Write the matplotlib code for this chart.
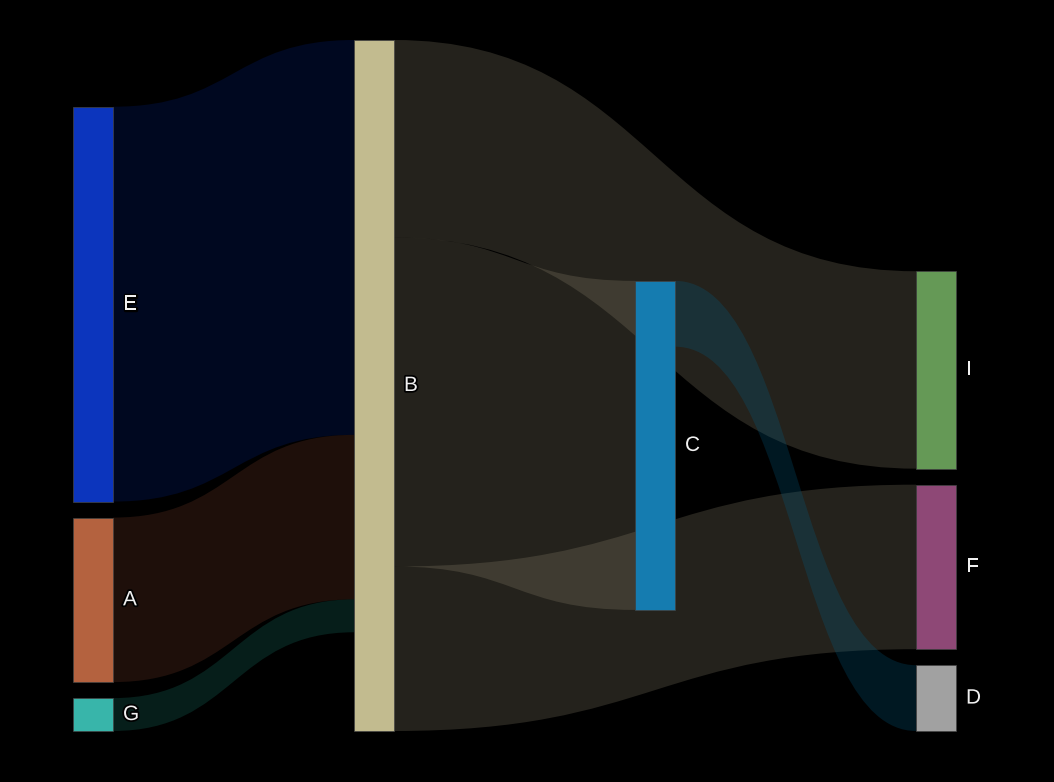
import numpy as np
import matplotlib
matplotlib.use('Agg')
import matplotlib.pyplot as plt
from matplotlib.path import Path
from matplotlib.patches import PathPatch, Rectangle
import matplotlib.patheffects as pe

# nodes, in drawing order inside each column
nodes = ['E', 'A', 'G', 'B', 'C', 'I', 'F', 'D']
node_col = [0, 0, 0, 1, 2, 3, 3, 3]
node_colors = ['#0c35bd', '#b4623f', '#38b5aa', '#c2bb8f',
               '#157cb0', '#659956', '#8e4876', '#a1a1a1']

# links (source, target, value)
link_src = ['E', 'A', 'G', 'B', 'B', 'B', 'C']
link_tgt = ['B', 'B', 'B', 'I', 'C', 'F', 'D']
link_val = [12, 5, 1, 6, 10, 5, 2]
link_colors = ['#002080', '#783c28', '#187868', '#908870',
               '#908870', '#908870', '#006088']
link_alpha = 0.25

# figure / layout settings (pixels)
W, H = 1054, 782
left, right = 73, 956
top, bottom = 40, 731
node_w = 40
pad = 16
iterations = 40

idx = {n: i for i, n in enumerate(nodes)}
n_in = np.zeros(len(nodes))
n_out = np.zeros(len(nodes))
for s, t, v in zip(link_src, link_tgt, link_val):
    n_out[idx[s]] += v
    n_in[idx[t]] += v
node_val = np.maximum(n_in, n_out)

ncols = max(node_col) + 1
cols = [[i for i in range(len(nodes)) if node_col[i] == c] for c in range(ncols)]
ky = min((bottom - top - pad * (len(c) - 1)) / node_val[c].sum() for c in cols)
col_x = np.linspace(left, right - node_w, ncols)

y0 = np.zeros(len(nodes))
y1 = np.zeros(len(nodes))
for c in cols:
    # stack each column against the bottom edge
    y = bottom - node_val[c].sum() * ky - pad * (len(c) - 1)
    for i in c:
        y0[i] = y
        y1[i] = y + node_val[i] * ky
        y = y1[i] + pad


def centre(i):
    return (y0[i] + y1[i]) / 2


def pull(i, incoming):
    num, den = 0.0, 0.0
    for s, t, v in zip(link_src, link_tgt, link_val):
        if incoming and idx[t] == i:
            num += v * centre(idx[s])
            den += v
        if not incoming and idx[s] == i:
            num += v * centre(idx[t])
            den += v
    return num / den if den else centre(i)


# relax single nodes of the middle columns (d3-sankey style)
mids = [c[0] for c in cols[1:-1] if len(c) == 1]
alpha = 1.0
for _ in range(iterations):
    alpha *= 0.99
    for incoming in (False, True):
        for i in mids:
            h = y1[i] - y0[i]
            dy = (pull(i, incoming) - centre(i)) * alpha
            y0[i] = min(max(y0[i] + dy, top), bottom - h)
            y1[i] = y0[i] + h

fig = plt.figure(figsize=(W / 100, H / 100), dpi=100)
fig.patch.set_facecolor('black')
ax = fig.add_axes([0, 0, 1, 1])
ax.set_facecolor('black')
ax.set_xlim(0, W)
ax.set_ylim(H, 0)
ax.axis('off')

# links
out_off = y0.copy()
in_off = y0.copy()
for s, t, v, col in zip(link_src, link_tgt, link_val, link_colors):
    i, j = idx[s], idx[t]
    h = v * ky
    xa = col_x[node_col[i]] + node_w
    xb = col_x[node_col[j]]
    ya, yb = out_off[i], in_off[j]
    out_off[i] += h
    in_off[j] += h
    xm = (xa + xb) / 2
    verts = [(xa, ya), (xm, ya), (xm, yb), (xb, yb),
             (xb, yb + h), (xm, yb + h), (xm, ya + h), (xa, ya + h), (xa, ya)]
    codes = [Path.MOVETO, Path.CURVE4, Path.CURVE4, Path.CURVE4,
             Path.LINETO, Path.CURVE4, Path.CURVE4, Path.CURVE4, Path.CLOSEPOLY]
    ax.add_patch(PathPatch(Path(verts, codes), facecolor=col, alpha=link_alpha,
                           edgecolor='none', zorder=1))

# nodes + labels
for i, n in enumerate(nodes):
    x = col_x[node_col[i]]
    ax.add_patch(Rectangle((x, y0[i]), node_w, y1[i] - y0[i], facecolor=node_colors[i],
                           edgecolor='#444444', lw=0.5, zorder=2))
    ax.text(x + node_w + 10, centre(i), n, color='#f0f0f0', fontsize=15,
            family='Liberation Sans', ha='left', va='center', zorder=3,
            path_effects=[pe.withStroke(linewidth=2.5, foreground='black')])

plt.savefig('out.png', dpi=100, facecolor='black')
